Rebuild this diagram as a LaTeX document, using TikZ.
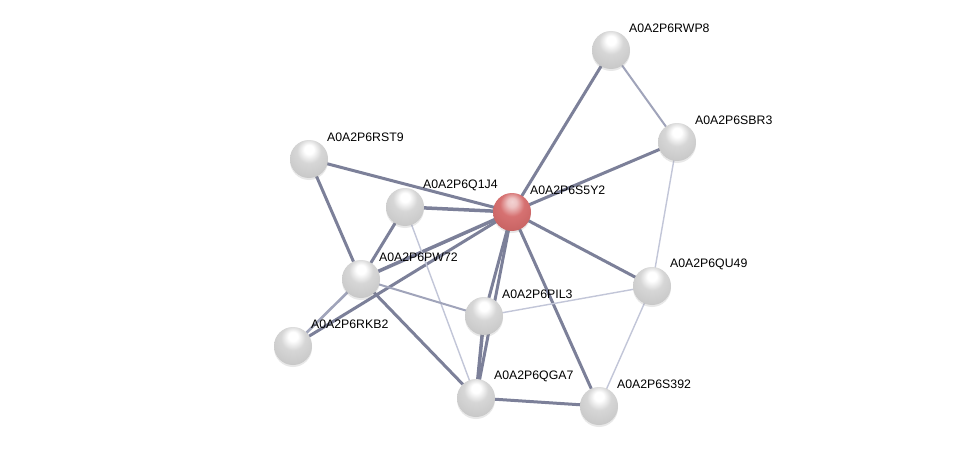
\documentclass[tikz,border=0pt]{standalone}
\usepackage{fontspec}
\setmainfont{Liberation Sans}
\usetikzlibrary{backgrounds,shadows}
\definecolor{edgedark}{HTML}{7C8099}
\definecolor{edgemid}{HTML}{A0A4BA}
\definecolor{edgelight}{HTML}{C2C6D8}
\definecolor{seedmid}{HTML}{D46A6A}
\pgfdeclareradialshading{protball}{\pgfpoint{0bp}{14bp}}{%
  color(0bp)=(white); color(6bp)=(white); color(16bp)=(white!84!black);
  color(30bp)=(white!79!black); color(42bp)=(white!68!black); color(50bp)=(white!50!black); color(60bp)=(white!40!black)}
\pgfdeclareradialshading{seedball}{\pgfpoint{0bp}{14bp}}{%
  color(0bp)=(seedmid!30!white); color(6bp)=(seedmid!40!white); color(16bp)=(seedmid!95!white);
  color(30bp)=(seedmid!95!black); color(42bp)=(seedmid!85!black); color(50bp)=(seedmid!65!black); color(60bp)=(seedmid!55!black)}
\begin{document}
\begin{tikzpicture}[
  x=1pt,y=-1pt,
  prot/.style={circle,minimum size=38pt,inner sep=0pt,shading=protball,
    drop shadow={opacity=0.18,shadow xshift=0pt,shadow yshift=-2pt},
    label={[font=\fontsize{12.3}{14}\selectfont,anchor=west,xshift=1pt,yshift=8pt]north east:#1}},
  seed/.style={prot=#1,shading=seedball},
  strong/.style={draw=edgedark,line width=3pt},
  medium/.style={draw=edgemid,line width=2pt},
  weak/.style={draw=edgelight,line width=1.4pt}
]
\useasboundingbox (0,0) rectangle (975,452);
\node[prot=A0A2P6RWP8] (rwp8) at (611,50) {};
\node[prot=A0A2P6SBR3] (sbr3) at (677,142) {};
\node[prot=A0A2P6RST9] (rst9) at (309,159) {};
\node[prot=A0A2P6Q1J4] (q1j4) at (405,207) {};
\node[seed=A0A2P6S5Y2] (s5y2) at (512,212) {};
\node[prot=A0A2P6PW72] (pw72) at (361,279) {};
\node[prot=A0A2P6QU49] (qu49) at (652,286) {};
\node[prot=A0A2P6PIL3] (pil3) at (484,316) {};
\node[prot=A0A2P6RKB2] (rkb2) at (293,346) {};
\node[prot=A0A2P6QGA7] (qga7) at (476,398) {};
\node[prot=A0A2P6S392] (s392) at (599,406) {};
\begin{scope}[on background layer]
\fill[white] (0,0) rectangle (975,452);
% links to the seed
\draw[strong] (s5y2.center)--(rst9.center);
\draw[strong,line width=3.5pt] (s5y2.center)--(q1j4.center);
\draw[strong,line width=3.5pt] (s5y2.center)--(pw72.center);
\draw[strong] (s5y2.center)--(rkb2.center);
\draw[strong] (s5y2.center)--(pil3.center);
\draw[strong] (s5y2.center)--(qga7.center);
\draw[strong] (s5y2.center)--(s392.center);
\draw[strong] (s5y2.center)--(qu49.center);
\draw[strong] (s5y2.center)--(sbr3.center);
\draw[strong] (s5y2.center)--(rwp8.center);
% other links
\draw[strong] (rst9.center)--(pw72.center);
\draw[strong] (q1j4.center)--(pw72.center);
\draw[weak] (q1j4.center)--(qga7.center);
\draw[medium,line width=2.6pt] (rkb2.center)--(pw72.center);
\draw[medium] (pw72.center)--(pil3.center);
\draw[strong] (pw72.center)--(qga7.center);
\draw[strong,line width=3.5pt] (pil3.center)--(qga7.center);
\draw[strong] (qga7.center)--(s392.center);
\draw[medium] (rwp8.center)--(sbr3.center);
\draw[weak] (sbr3.center)--(qu49.center);
\draw[weak] (pil3.center)--(qu49.center);
\draw[weak] (qu49.center)--(s392.center);
\end{scope}
\end{tikzpicture}
\end{document}
